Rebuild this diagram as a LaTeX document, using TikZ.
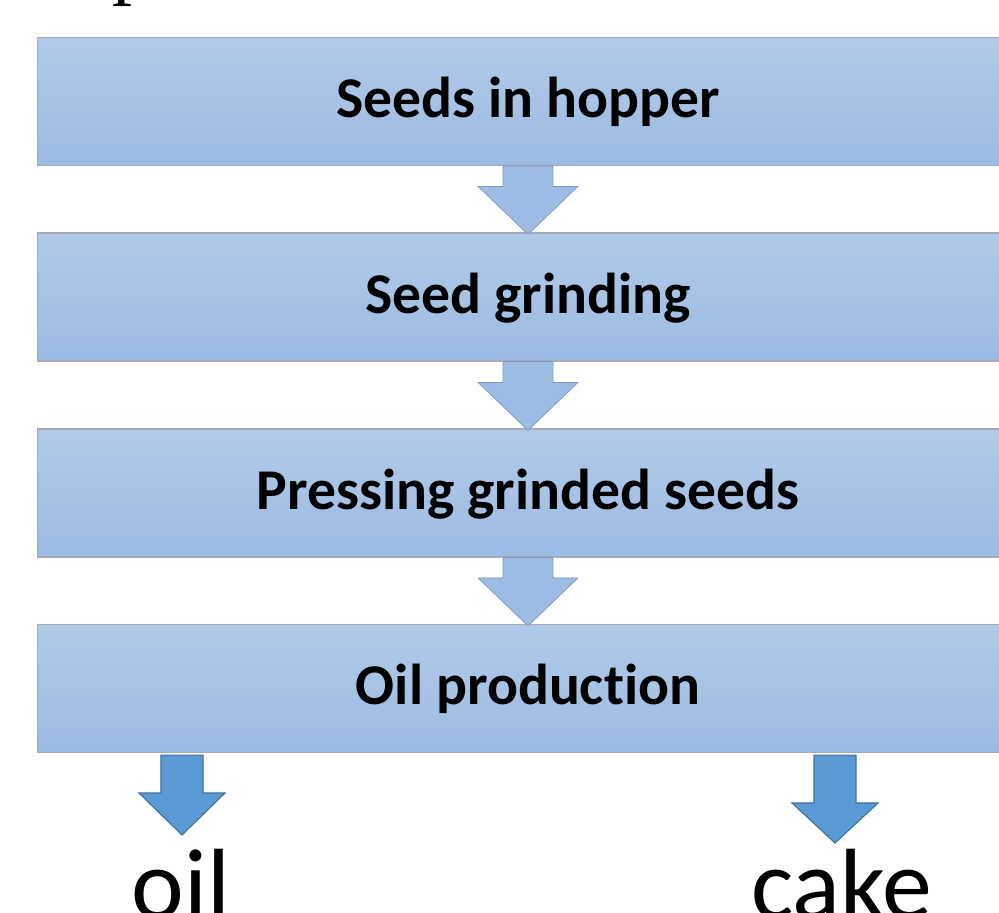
\documentclass[tikz,border=0pt]{standalone}
\usepackage{fontspec}
\setmainfont{Carlito}[Ligatures=NoCommon]
\newfontfamily\titlefont{Liberation Serif}
\usetikzlibrary{calc}

\definecolor{boxtop}{RGB}{177,202,232}
\definecolor{boxbot}{RGB}{156,187,227}
\definecolor{boxline}{RGB}{165,170,180}
\definecolor{linkfill}{RGB}{157,188,227}
\definecolor{linkline}{RGB}{125,152,195}
\definecolor{outfill}{RGB}{91,155,213}
\definecolor{outdraw}{RGB}{65,113,156}

% block arrow: start, tip, shaft half width, head half width, head length, style
\newcommand{\blockarrow}[6]{%
  \path[#6] let \p1=(#1), \p2=(#2) in
    (\x1-#3,\y1) -- (\x1+#3,\y1) -- (\x1+#3,\y2+#5) -- (\x1+#4,\y2+#5)
    -- (\x1,\y2) -- (\x1-#4,\y2+#5) -- (\x1-#3,\y2+#5) -- cycle;}

\begin{document}
\begin{tikzpicture}[x=0.025cm,y=-0.025cm,
    stepbox/.style={draw=boxline,line width=0.8pt,top color=boxtop,bottom color=boxbot,
      minimum width=24.5cm,minimum height=3.2cm,text depth=0.29cm,text height=1.1cm,
      font=\fontsize{41}{48}\selectfont\bfseries},
    linkarrow/.style={fill=linkfill,draw=linkline,line width=0.5pt},
    outarrow/.style={fill=outfill,draw=outdraw,line width=0.8pt}]

            \clip (0,0) rectangle (999,913);

            \node[anchor=base west,inner sep=0pt,font=\titlefont\fontsize{57}{60}\selectfont] (T) at (112,-10) {p};

            \node[stepbox] (A) at (528,101.5) {Seeds in hopper};
            \node[stepbox] (B) at (528,297) {Seed grinding};
            \node[stepbox] (C) at (528,493) {Pressing grinded seeds};
            \node[stepbox] (D) at (528,688.5) {Oil production};

            \node[anchor=base,font=\fontsize{71}{80}\selectfont] (E) at (181,918) {oil};
            \node[anchor=base,font=\fontsize{71}{80}\selectfont] (F) at (842,918) {cake};

            \coordinate (oiltip) at (182,835);
            \coordinate (caketip) at (835,843);

            \blockarrow{A.south}{$(B.north)+(0,2)$}{0.625cm}{1.25cm}{1.2cm}{linkarrow}
            \blockarrow{B.south}{$(C.north)+(0,2)$}{0.625cm}{1.25cm}{1.2cm}{linkarrow}
            \blockarrow{C.south}{$(D.north)+(0,2)$}{0.625cm}{1.25cm}{1.2cm}{linkarrow}
            \blockarrow{$(D.south -| oiltip)+(0,2)$}{oiltip}{0.525cm}{1.075cm}{1.05cm}{outarrow}
            \blockarrow{$(D.south -| caketip)+(0,2)$}{caketip}{0.525cm}{1.075cm}{1.0cm}{outarrow}
        \end{tikzpicture}
\end{document}
